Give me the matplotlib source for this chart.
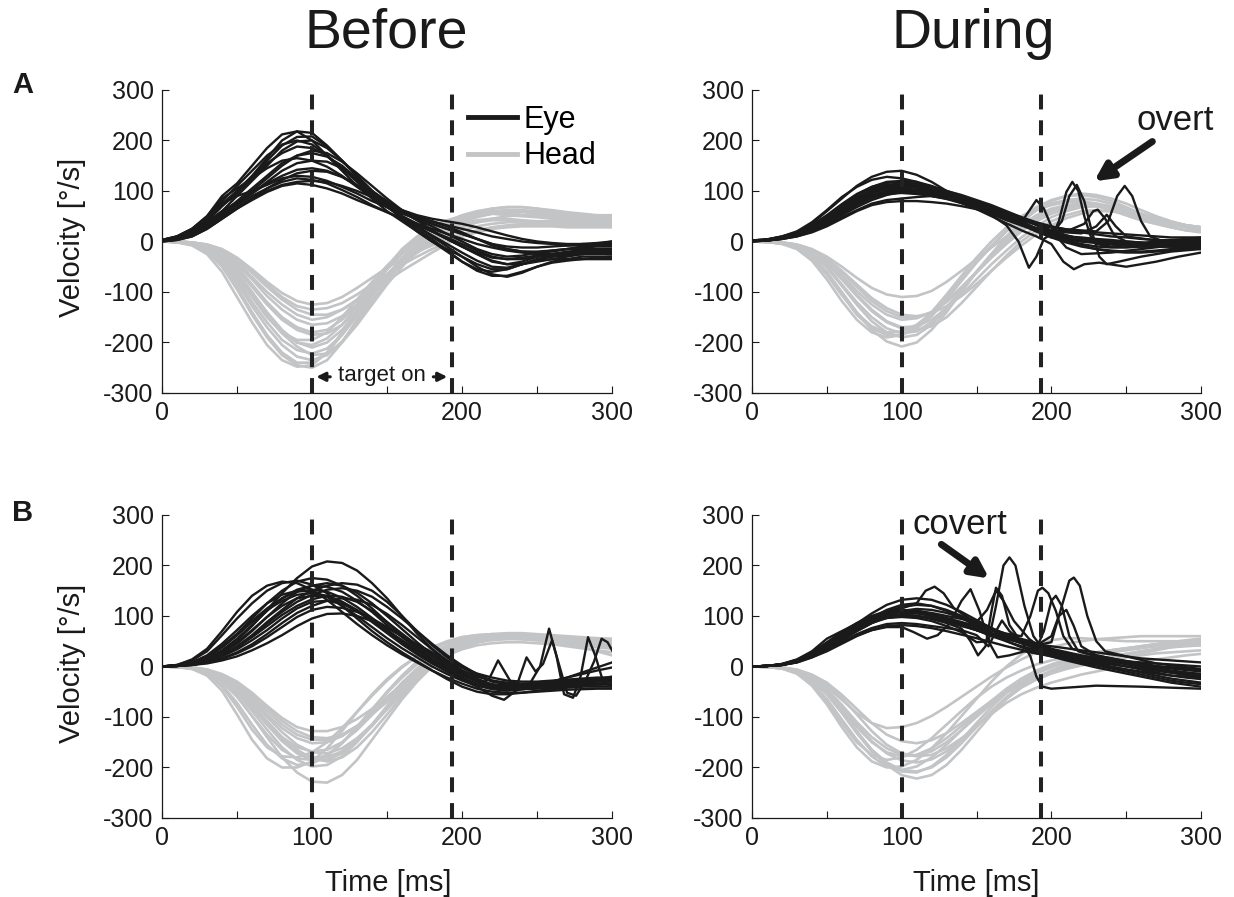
import matplotlib
matplotlib.use("Agg")
import matplotlib.pyplot as plt
from matplotlib.lines import Line2D

plt.rcParams['font.family'] = ['Liberation Sans', 'DejaVu Sans']
plt.rcParams['axes.unicode_minus'] = False

EYE_C = '#1a1a1a'
HEAD_C = '#c3c4c6'

time_ms = [0, 10, 20, 30, 40, 50, 60, 70, 80, 90, 100, 110, 120, 130, 140, 150,
           160, 170, 180, 190, 200, 210, 220, 230, 240, 250, 260, 270, 280, 290, 300]

# ---------------- A / Before ----------------
a_before_eye = [
    [2, 8, 20, 40, 70, 100, 130, 165, 200, 218, 215, 190, 160, 130, 100, 70, 45, 20, 0, -20, -40, -55, -60, -55, -45, -35, -30, -28, -25, -25, -25],
    [3, 10, 25, 50, 90, 115, 150, 185, 212, 218, 200, 170, 140, 110, 85, 60, 40, 20, 0, -15, -30, -45, -55, -55, -45, -35, -30, -25, -25, -22, -20],
    [1, 5, 15, 35, 60, 90, 120, 150, 180, 198, 200, 185, 160, 130, 100, 75, 50, 30, 10, -10, -30, -50, -65, -70, -62, -50, -40, -35, -30, -30, -30],
    [2, 6, 18, 40, 70, 95, 125, 155, 175, 188, 185, 170, 145, 120, 95, 70, 50, 35, 20, 5, -10, -25, -40, -45, -40, -30, -25, -20, -18, -15, -15],
    [0, 4, 12, 30, 55, 80, 105, 130, 155, 170, 175, 168, 150, 125, 100, 80, 60, 45, 35, 25, 15, 5, -5, -10, -12, -12, -10, -8, -5, -3, 0],
    [1, 5, 15, 32, 55, 75, 95, 118, 140, 155, 160, 158, 145, 125, 100, 78, 58, 42, 30, 15, 0, -15, -25, -30, -28, -22, -18, -15, -15, -15, -15],
    [2, 7, 20, 38, 60, 78, 95, 115, 130, 142, 145, 140, 128, 110, 90, 72, 58, 48, 40, 30, 18, 5, -8, -15, -20, -20, -18, -15, -12, -10, -10],
    [3, 10, 25, 45, 75, 90, 100, 112, 125, 130, 128, 120, 108, 95, 80, 68, 55, 45, 35, 25, 15, 5, -5, -15, -20, -22, -20, -15, -10, -5, 0],
    [1, 6, 18, 35, 55, 72, 90, 105, 118, 125, 122, 115, 102, 88, 72, 58, 45, 32, 20, 8, -5, -18, -30, -35, -35, -30, -28, -25, -22, -20, -20],
    [0, 3, 10, 25, 45, 65, 82, 98, 110, 115, 112, 105, 95, 82, 70, 58, 45, 35, 25, 15, 5, -5, -12, -18, -22, -25, -25, -22, -20, -18, -15],
    [2, 8, 22, 45, 80, 110, 140, 170, 192, 200, 192, 170, 145, 118, 92, 68, 48, 30, 12, -5, -22, -38, -50, -52, -45, -38, -35, -35, -35, -35, -35],
    [1, 4, 12, 28, 50, 75, 100, 125, 150, 170, 180, 175, 158, 135, 110, 85, 62, 42, 22, 5, -10, -25, -38, -45, -45, -40, -35, -30, -25, -22, -20],
    [0, 3, 10, 25, 45, 65, 85, 105, 122, 135, 140, 138, 128, 112, 95, 78, 62, 50, 40, 32, 25, 18, 10, 5, 0, -3, -5, -8, -8, -8, -8],
    [2, 8, 20, 42, 75, 100, 128, 160, 190, 207, 208, 188, 160, 130, 100, 72, 48, 25, 5, -18, -40, -58, -68, -68, -60, -50, -42, -38, -35, -32, -30],
    [3, 10, 25, 50, 85, 105, 125, 145, 160, 165, 160, 148, 130, 108, 88, 68, 50, 35, 20, 5, -10, -22, -32, -35, -32, -28, -25, -22, -20, -18, -18],
    [1, 4, 14, 30, 50, 68, 85, 100, 112, 118, 120, 118, 110, 100, 88, 75, 62, 52, 45, 40, 35, 28, 20, 12, 5, 0, -3, -5, -5, -5, -5],
]
a_before_head = [
    [0, -2, -8, -25, -60, -110, -160, -205, -235, -248, -245, -220, -180, -135, -90, -50, -15, 10, 30, 42, 50, 55, 55, 52, 50, 48, 45, 45, 45, 45, 45],
    [0, -1, -5, -18, -45, -90, -140, -185, -220, -240, -240, -220, -185, -140, -95, -55, -20, 5, 25, 40, 50, 55, 58, 55, 52, 50, 48, 45, 45, 45, 45],
    [0, -1, -4, -12, -30, -60, -100, -140, -175, -200, -210, -200, -175, -140, -100, -65, -35, -10, 10, 25, 35, 42, 45, 45, 42, 40, 40, 40, 40, 40, 40],
    [0, -1, -3, -10, -25, -50, -85, -120, -150, -170, -180, -175, -155, -125, -95, -65, -40, -18, 2, 18, 30, 38, 42, 42, 40, 38, 38, 38, 38, 38, 38],
    [0, 0, -2, -8, -20, -42, -70, -100, -125, -145, -155, -150, -135, -115, -90, -65, -42, -22, -5, 10, 22, 30, 35, 38, 40, 40, 40, 40, 38, 38, 38],
    [0, 0, -2, -6, -15, -32, -55, -80, -102, -118, -125, -122, -110, -92, -72, -52, -35, -20, -8, 5, 15, 22, 28, 30, 32, 32, 32, 32, 30, 30, 30],
    [0, -1, -6, -20, -50, -95, -145, -190, -225, -245, -250, -235, -200, -155, -110, -68, -32, -5, 18, 35, 48, 58, 65, 68, 68, 65, 60, 55, 52, 50, 50],
    [0, -1, -4, -14, -35, -70, -110, -150, -180, -195, -195, -180, -150, -115, -80, -48, -20, 5, 25, 40, 52, 60, 65, 68, 68, 65, 62, 58, 55, 52, 52],
    [0, 0, -3, -10, -28, -55, -90, -125, -155, -175, -185, -182, -165, -138, -105, -72, -42, -15, 8, 25, 38, 48, 55, 58, 58, 55, 52, 50, 48, 48, 48],
    [0, -1, -5, -15, -38, -75, -120, -160, -195, -215, -222, -212, -185, -148, -108, -70, -38, -10, 12, 30, 42, 50, 55, 55, 52, 50, 48, 48, 48, 48, 48],
    [0, 0, -2, -7, -18, -38, -62, -90, -115, -135, -145, -145, -135, -118, -98, -78, -58, -40, -22, -5, 10, 20, 28, 32, 35, 35, 35, 35, 35, 35, 35],
    [0, -1, -4, -12, -32, -65, -105, -145, -178, -200, -205, -192, -165, -128, -90, -55, -25, 0, 20, 35, 45, 52, 55, 55, 52, 50, 48, 46, 45, 45, 45],
    [0, 0, -3, -9, -22, -45, -75, -108, -135, -155, -165, -162, -148, -125, -98, -70, -45, -22, -2, 15, 28, 38, 45, 50, 52, 52, 50, 48, 46, 45, 45],
    [0, -1, -4, -14, -35, -68, -108, -148, -182, -208, -225, -222, -200, -165, -125, -85, -50, -20, 5, 25, 40, 50, 58, 62, 62, 60, 58, 55, 52, 50, 50],
    [0, 0, -2, -6, -16, -34, -58, -85, -110, -128, -135, -132, -122, -105, -85, -65, -46, -30, -15, -2, 10, 18, 25, 28, 30, 30, 30, 28, 28, 28, 28],
    [0, -1, -5, -17, -42, -82, -128, -170, -205, -228, -235, -225, -198, -160, -118, -78, -42, -12, 12, 30, 44, 54, 60, 62, 60, 58, 55, 52, 50, 48, 48],
]

# ---------------- A / During ----------------
a_during_eye = [
    [2, 3, 8, 18, 35, 60, 85, 110, 128, 138, 140, 132, 118, 100, 88, 78, 68, 55, 40, 25, 15, 10, 8, 5, 3, 0, -2, -5, -8, -10, -12],
    [2, 4, 10, 20, 38, 62, 88, 108, 122, 128, 125, 118, 105, 95, 88, 80, 70, 58, 45, 32, 20, 12, 5, 0, -5, -8, -10, -10, -10, -10, -10],
    [1, 3, 8, 16, 30, 50, 72, 92, 108, 118, 120, 118, 110, 100, 92, 82, 72, 60, 48, 35, 22, 12, 5, 2, 0, -2, -3, -5, -5, -5, -5],
    [1, 2, 6, 14, 26, 42, 62, 82, 98, 108, 112, 112, 108, 100, 90, 78, 65, 50, 35, 20, 8, -2, -10, -15, -18, -20, -20, -18, -15, -12, -10],
    [2, 4, 10, 18, 32, 50, 70, 88, 100, 105, 105, 102, 98, 92, 85, 75, 62, 48, 35, 22, 12, 5, 0, -3, -5, -5, -3, 0, 2, 5, 8],
    [1, 2, 5, 12, 22, 36, 52, 68, 82, 92, 98, 100, 98, 92, 82, 70, 58, 45, 32, 20, 10, 2, -5, -10, -12, -12, -10, -8, -5, -3, 0],
    [0, 2, 5, 10, 20, 32, 48, 62, 75, 82, 85, 88, 90, 88, 84, 76, 66, 52, 38, 24, 12, 5, 0, -2, -5, -5, -5, -3, -2, 0, 0],
    [1, 3, 8, 15, 28, 45, 65, 85, 100, 108, 110, 108, 100, 90, 80, 70, 60, 50, 42, 35, 28, 22, 18, 14, 10, 8, 5, 3, 2, 0, 0],
    [2, 3, 7, 14, 25, 40, 58, 76, 90, 98, 100, 96, 90, 85, 80, 72, 62, 50, 36, 22, 10, 2, -8, -15, -20, -22, -22, -20, -18, -15, -12],
    [0, 2, 5, 10, 18, 30, 45, 60, 72, 78, 80, 80, 78, 75, 70, 64, 56, 46, 35, 25, 16, 10, 5, 2, 0, -2, -5, -8, -10, -12, -15],
    [1, 3, 8, 16, 28, 45, 65, 85, 102, 112, 115, 112, 105, 95, 85, 74, 62, 50, 38, 26, 16, 8, 2, -2, -5, -8, -10, -10, -10, -10, -10],
    [1, 3, 7, 14, 26, 42, 60, 78, 92, 100, 102, 100, 95, 88, 82, 75, 67, 58, 48, 38, 30, 24, 20, 18, 16, 14, 12, 10, 8, 8, 8],
]
# traces with corrective saccades: (times, values)
a_during_sacc = [
    ([0, 10, 20, 30, 40, 50, 60, 70, 80, 90, 100, 110, 120, 130, 140, 150, 160, 170, 180, 185, 190, 195, 200, 205, 210, 220, 240, 260, 280, 300],
     [1, 3, 8, 16, 30, 50, 72, 92, 105, 112, 112, 108, 100, 92, 84, 74, 62, 48, 38, 60, 82, 65, 30, 5, -12, -25, -22, -15, -8, -5]),
    ([0, 10, 20, 30, 40, 50, 60, 70, 80, 90, 100, 110, 120, 130, 140, 150, 160, 170, 180, 190, 200, 205, 210, 214, 218, 222, 226, 230, 240, 260, 280, 300],
     [2, 4, 9, 18, 32, 52, 74, 94, 108, 116, 118, 114, 106, 96, 86, 76, 64, 50, 36, 22, 8, 40, 98, 118, 100, 50, 12, -5, -10, -5, 0, 2]),
    ([0, 10, 20, 30, 40, 50, 60, 70, 80, 90, 100, 110, 120, 130, 140, 150, 160, 170, 180, 190, 200, 207, 212, 217, 222, 227, 232, 237, 245, 260, 280, 300],
     [1, 2, 6, 13, 24, 40, 60, 80, 96, 106, 110, 108, 102, 94, 85, 75, 63, 50, 38, 25, 14, 40, 90, 112, 80, 20, -30, -45, -40, -30, -20, -15]),
    ([0, 10, 20, 30, 40, 50, 60, 70, 80, 90, 100, 110, 120, 130, 140, 150, 160, 170, 180, 190, 200, 210, 222, 228, 231, 236, 242, 250, 270, 300],
     [1, 3, 7, 15, 28, 46, 66, 86, 100, 108, 110, 106, 98, 88, 78, 68, 56, 44, 34, 26, 22, 20, 35, 60, 63, 45, 12, 0, -5, -10]),
    ([0, 10, 20, 30, 40, 50, 60, 70, 80, 90, 100, 110, 120, 130, 140, 150, 160, 170, 180, 190, 200, 210, 220, 230, 238, 244, 249, 254, 260, 266, 275, 290, 300],
     [1, 2, 6, 12, 24, 38, 56, 74, 88, 96, 98, 96, 92, 86, 80, 72, 62, 52, 42, 34, 28, 24, 22, 20, 40, 90, 110, 90, 40, 10, 0, 2, 5]),
    ([0, 10, 20, 30, 40, 50, 60, 70, 80, 90, 100, 110, 120, 130, 140, 150, 160, 170, 178, 185, 190, 195, 200, 210, 220, 240, 270, 300],
     [2, 3, 7, 14, 26, 42, 62, 82, 96, 104, 106, 102, 96, 88, 78, 66, 52, 32, 0, -52, -30, 5, 15, 10, 5, 0, -5, -8]),
    ([0, 10, 20, 30, 40, 50, 60, 70, 80, 90, 100, 110, 120, 130, 140, 150, 160, 170, 180, 190, 200, 208, 215, 222, 232, 250, 270, 285, 300],
     [1, 3, 8, 15, 28, 44, 64, 84, 98, 104, 104, 100, 94, 86, 76, 64, 50, 36, 22, 10, -5, -40, -55, -45, -42, -50, -40, -30, -22]),
    ([0, 10, 20, 30, 40, 50, 60, 70, 80, 90, 100, 110, 120, 130, 140, 150, 160, 170, 180, 190, 200, 210, 220, 230, 237, 243, 250, 270, 300],
     [0, 2, 6, 12, 22, 36, 54, 72, 86, 94, 96, 94, 90, 84, 76, 66, 54, 42, 32, 26, 22, 18, 16, 30, 53, 30, 10, 2, 5]),
]
a_during_head = [
    [0, -1, -4, -12, -30, -60, -100, -140, -175, -198, -208, -200, -175, -140, -100, -60, -25, 10, 40, 62, 75, 82, 85, 82, 75, 65, 55, 45, 38, 32, 28],
    [0, -1, -3, -10, -25, -50, -85, -120, -150, -172, -182, -178, -160, -130, -95, -60, -25, 8, 38, 62, 80, 90, 95, 92, 85, 75, 62, 50, 40, 32, 28],
    [0, -1, -3, -8, -20, -40, -68, -98, -125, -145, -155, -152, -140, -118, -90, -60, -30, 0, 25, 45, 60, 70, 75, 75, 70, 62, 52, 42, 35, 30, 25],
    [0, 0, -2, -6, -15, -30, -50, -72, -92, -105, -110, -108, -98, -80, -58, -35, -12, 10, 30, 48, 62, 70, 72, 70, 62, 52, 42, 35, 28, 22, 20],
    [0, -1, -4, -12, -32, -65, -105, -145, -172, -185, -185, -172, -148, -115, -78, -42, -10, 20, 45, 62, 72, 78, 78, 72, 62, 52, 42, 35, 28, 22, 18],
    [0, 0, -2, -8, -20, -42, -72, -105, -135, -158, -170, -168, -155, -132, -105, -75, -45, -18, 8, 30, 48, 60, 68, 70, 68, 62, 55, 46, 38, 32, 28],
    [0, 0, -2, -6, -16, -34, -58, -85, -112, -132, -145, -148, -142, -128, -108, -84, -58, -32, -8, 14, 32, 46, 55, 60, 60, 56, 50, 42, 35, 28, 22],
    [0, -1, -5, -15, -38, -75, -118, -155, -180, -190, -185, -168, -140, -105, -68, -32, 0, 28, 50, 66, 75, 80, 80, 75, 65, 55, 45, 38, 32, 28, 25],
    [0, 0, -2, -8, -22, -45, -75, -108, -138, -160, -172, -175, -168, -150, -122, -90, -58, -28, 0, 22, 40, 52, 60, 62, 60, 55, 48, 40, 34, 30, 26],
    [0, -1, -3, -10, -26, -52, -88, -125, -158, -180, -190, -185, -165, -135, -98, -60, -25, 5, 32, 52, 65, 72, 75, 72, 66, 58, 48, 40, 34, 30, 28],
    [0, 0, -2, -7, -18, -36, -62, -90, -118, -138, -150, -150, -140, -120, -92, -62, -32, -5, 20, 40, 55, 65, 70, 70, 66, 60, 52, 45, 38, 32, 28],
    [0, -1, -4, -13, -33, -66, -106, -142, -168, -180, -178, -165, -142, -110, -75, -40, -8, 22, 48, 68, 82, 90, 92, 88, 80, 68, 55, 45, 38, 32, 28],
]

# ---------------- B / Before ----------------
b_before_eye = [
    [0, 2, 6, 15, 30, 52, 80, 112, 145, 175, 198, 208, 205, 190, 165, 135, 100, 65, 35, 10, -12, -28, -38, -42, -42, -40, -38, -35, -32, -30, -30],
    [0, 3, 12, 30, 62, 95, 125, 150, 165, 170, 162, 145, 120, 95, 70, 48, 28, 10, -8, -25, -40, -50, -55, -55, -52, -48, -45, -42, -40, -40, -40],
    [0, 2, 8, 20, 40, 65, 95, 125, 150, 168, 175, 172, 160, 140, 115, 88, 62, 38, 15, -5, -22, -35, -42, -45, -45, -42, -40, -38, -35, -35, -35],
    [0, 2, 6, 15, 32, 55, 82, 110, 135, 152, 160, 158, 148, 130, 108, 82, 58, 35, 12, -8, -25, -38, -45, -48, -45, -42, -40, -38, -36, -35, -35],
    [0, 1, 4, 10, 22, 40, 62, 88, 112, 135, 150, 160, 165, 162, 150, 128, 100, 70, 42, 18, -2, -18, -30, -35, -35, -32, -30, -28, -26, -25, -25],
    [0, 2, 8, 22, 45, 72, 100, 125, 142, 150, 148, 138, 120, 100, 78, 56, 36, 18, 0, -15, -28, -38, -42, -42, -40, -38, -36, -35, -35, -35, -35],
    [0, 1, 4, 10, 22, 38, 58, 80, 102, 120, 133, 140, 138, 128, 110, 88, 65, 42, 20, 0, -18, -30, -38, -40, -40, -38, -35, -32, -30, -28, -28],
    [0, 1, 4, 10, 20, 34, 52, 72, 95, 115, 128, 130, 124, 110, 92, 72, 52, 32, 14, -2, -16, -28, -35, -38, -38, -36, -34, -32, -30, -30, -30],
    [0, 1, 3, 8, 15, 26, 40, 58, 78, 98, 112, 118, 116, 108, 95, 78, 60, 42, 25, 8, -8, -20, -28, -32, -34, -34, -32, -30, -28, -26, -25],
    [0, 1, 3, 6, 12, 20, 32, 46, 62, 80, 95, 104, 105, 100, 90, 76, 60, 44, 28, 12, -2, -14, -22, -28, -30, -30, -28, -26, -24, -22, -22],
    [0, 1, 5, 12, 26, 45, 70, 98, 125, 148, 160, 165, 160, 146, 125, 100, 74, 48, 24, 4, -14, -28, -38, -42, -42, -40, -38, -35, -30, -25, -20],
    [0, 2, 7, 18, 38, 62, 88, 112, 130, 142, 145, 140, 128, 110, 88, 66, 44, 24, 6, -10, -24, -34, -40, -42, -40, -36, -30, -22, -15, -8, -2],
    [0, 1, 4, 10, 22, 38, 60, 85, 108, 128, 142, 152, 155, 150, 138, 118, 95, 70, 45, 22, 2, -15, -28, -35, -38, -36, -30, -22, -12, -2, 8],
    [0, 3, 14, 35, 70, 108, 140, 160, 168, 165, 152, 132, 108, 84, 62, 42, 24, 8, -8, -22, -34, -44, -50, -52, -52, -50, -48, -46, -45, -44, -44],
    [0, 1, 3, 8, 16, 28, 44, 64, 86, 106, 120, 130, 135, 132, 122, 104, 82, 58, 34, 12, -8, -24, -36, -42, -45, -44, -42, -40, -38, -36, -35],
]
b_before_sacc = [
    ([0, 10, 20, 30, 40, 50, 60, 70, 80, 90, 100, 110, 120, 130, 140, 150, 160, 170, 180, 190, 200, 210, 218, 224, 230, 236, 244, 252, 258, 263, 268, 274, 279, 284, 289, 294, 300],
     [0, 2, 7, 18, 38, 62, 90, 115, 135, 148, 152, 148, 136, 118, 96, 72, 50, 30, 10, -8, -24, -38, -25, 12, -18, -48, -40, 0, 75, 20, -55, -62, -20, 58, 20, -30, -40]),
    ([0, 10, 20, 30, 40, 50, 60, 70, 80, 90, 100, 110, 120, 130, 140, 150, 160, 170, 180, 190, 200, 210, 220, 228, 235, 243, 249, 254, 260, 265, 270, 276, 282, 288, 293, 297, 300],
     [0, 1, 5, 13, 28, 48, 72, 98, 120, 135, 140, 138, 128, 112, 92, 70, 48, 28, 8, -10, -26, -40, -58, -66, -50, 18, -10, 5, 52, 0, -52, -58, -30, 10, 55, 48, 32]),
]
b_before_head = [
    [0, -1, -5, -18, -48, -95, -145, -182, -200, -200, -188, -162, -128, -90, -55, -25, 0, 20, 38, 50, 58, 62, 64, 64, 62, 60, 58, 55, 52, 50, 50],
    [0, -1, -3, -10, -28, -58, -98, -140, -180, -210, -228, -230, -215, -185, -145, -105, -65, -30, 0, 25, 42, 52, 58, 60, 60, 58, 55, 52, 50, 48, 48],
    [0, -1, -3, -10, -25, -50, -82, -115, -145, -168, -180, -180, -168, -145, -115, -82, -50, -20, 5, 25, 40, 50, 55, 58, 58, 56, 54, 52, 50, 48, 46],
    [0, 0, -2, -7, -18, -38, -65, -95, -122, -142, -152, -150, -138, -118, -92, -64, -36, -10, 12, 30, 44, 52, 56, 58, 56, 54, 50, 46, 42, 40, 38],
    [0, -1, -4, -14, -36, -72, -115, -155, -182, -195, -192, -178, -152, -120, -85, -52, -22, 4, 26, 42, 54, 60, 62, 62, 60, 58, 55, 52, 48, 45, 42],
    [0, 0, -2, -6, -16, -32, -55, -82, -108, -128, -140, -142, -135, -118, -95, -70, -44, -18, 5, 24, 38, 48, 54, 56, 56, 54, 52, 50, 48, 45, 42],
    [0, -1, -3, -9, -22, -44, -74, -108, -140, -165, -182, -188, -180, -160, -130, -95, -60, -28, 0, 22, 38, 48, 54, 56, 56, 54, 50, 46, 42, 38, 35],
    [0, -1, -4, -12, -30, -60, -98, -135, -165, -182, -185, -175, -152, -120, -85, -50, -18, 10, 32, 48, 58, 62, 64, 62, 60, 56, 52, 48, 44, 40, 38],
    [0, 0, -2, -8, -20, -40, -68, -100, -130, -155, -170, -172, -162, -142, -115, -85, -55, -26, 0, 22, 38, 48, 54, 58, 58, 58, 56, 54, 52, 50, 48],
    [0, -1, -4, -15, -40, -80, -125, -160, -178, -180, -170, -150, -122, -90, -58, -28, -2, 20, 36, 48, 55, 58, 58, 56, 54, 52, 50, 48, 46, 44, 42],
    [0, 0, -2, -6, -15, -30, -52, -78, -102, -120, -128, -128, -120, -104, -84, -60, -36, -14, 6, 22, 34, 42, 46, 48, 48, 46, 44, 40, 36, 32, 28],
    [0, -1, -3, -10, -26, -52, -88, -125, -160, -185, -198, -195, -178, -150, -115, -78, -42, -10, 16, 36, 50, 58, 62, 64, 64, 62, 60, 58, 56, 54, 52],
    [0, 0, -2, -8, -22, -46, -78, -112, -140, -160, -168, -165, -150, -126, -96, -64, -32, -4, 20, 38, 50, 56, 60, 60, 58, 56, 52, 48, 44, 40, 36],
    [0, -1, -3, -9, -24, -48, -80, -115, -148, -172, -185, -185, -172, -148, -118, -84, -50, -18, 10, 32, 48, 58, 64, 66, 66, 64, 62, 60, 58, 56, 55],
    [0, 0, -2, -7, -18, -36, -60, -88, -115, -135, -145, -145, -136, -118, -94, -68, -40, -14, 8, 26, 40, 48, 52, 54, 54, 52, 48, 44, 38, 30, 22],
]

# ---------------- B / During ----------------
b_during_eye = [
    [0, 1, 4, 12, 25, 45, 65, 85, 105, 122, 132, 135, 132, 122, 108, 92, 76, 62, 50, 40, 32, 25, 18, 12, 6, 0, -6, -12, -18, -22, -25],
    [0, 1, 4, 10, 22, 38, 56, 75, 92, 108, 118, 122, 120, 112, 100, 86, 72, 58, 46, 35, 25, 15, 8, 2, -4, -10, -16, -22, -28, -32, -35],
    [0, 1, 5, 14, 30, 55, 70, 85, 98, 108, 112, 110, 104, 95, 84, 72, 60, 50, 40, 32, 24, 18, 12, 8, 4, 0, -4, -8, -12, -14, -15],
    [0, 1, 3, 9, 20, 35, 52, 70, 86, 98, 104, 105, 102, 95, 86, 76, 66, 56, 46, 38, 30, 24, 20, 16, 12, 10, 8, 6, 4, 2, 0],
    [0, 1, 4, 11, 24, 40, 58, 78, 96, 112, 122, 125, 120, 110, 96, 80, 64, 50, 38, 28, 20, 12, 5, -2, -8, -14, -20, -26, -32, -36, -40],
    [0, 1, 3, 8, 18, 30, 45, 60, 72, 80, 82, 80, 76, 70, 63, 56, 48, 40, 33, 26, 20, 14, 8, 3, -2, -6, -10, -14, -18, -20, -22],
    [0, 1, 4, 12, 26, 44, 62, 80, 94, 104, 108, 106, 100, 92, 82, 72, 62, 54, 48, 44, 40, 36, 32, 28, 24, 20, 16, 14, 12, 10, 8],
    [0, 1, 4, 10, 22, 36, 52, 70, 86, 100, 110, 114, 112, 106, 96, 84, 72, 60, 48, 38, 28, 20, 12, 6, 0, -6, -12, -18, -24, -28, -32],
]
b_during_sacc = [
    ([0, 10, 20, 30, 40, 50, 60, 70, 80, 90, 100, 110, 116, 122, 128, 135, 145, 155, 165, 180, 200, 220, 240, 260, 280, 300],
     [0, 1, 5, 13, 28, 48, 68, 86, 100, 110, 115, 125, 150, 158, 145, 115, 95, 82, 70, 52, 35, 22, 12, 2, -8, -15]),
    ([0, 10, 20, 30, 40, 50, 60, 70, 80, 90, 100, 108, 117, 124, 132, 140, 146, 152, 158, 164, 172, 182, 192, 205, 225, 245, 265, 285, 300],
     [0, 1, 3, 9, 20, 34, 48, 62, 72, 78, 78, 68, 55, 62, 85, 130, 153, 110, 50, 18, 22, 30, 25, 20, 14, 8, -2, -12, -18]),
    ([0, 10, 20, 30, 40, 50, 60, 70, 80, 90, 100, 110, 120, 130, 140, 146, 151, 156, 160, 163, 167, 172, 178, 186, 196, 210, 230, 250, 270, 300],
     [0, 1, 4, 11, 24, 42, 60, 78, 92, 100, 102, 100, 94, 86, 75, 50, 22, 40, 110, 156, 140, 82, 56, 50, 40, 22, 12, 6, 0, -6]),
    ([0, 10, 20, 30, 40, 50, 60, 70, 80, 90, 100, 110, 120, 130, 140, 150, 157, 163, 168, 175, 185, 195, 210, 230, 250, 270, 300],
     [0, 1, 4, 12, 26, 44, 64, 82, 96, 106, 110, 110, 106, 100, 94, 88, 112, 150, 130, 90, 55, 32, 22, 15, 5, -8, -20]),
    ([0, 10, 20, 30, 40, 50, 60, 70, 80, 90, 100, 110, 120, 130, 140, 150, 158, 163, 168, 172, 176, 182, 188, 195, 205, 220, 240, 260, 280, 300],
     [0, 1, 3, 10, 22, 38, 56, 74, 88, 96, 98, 96, 90, 80, 68, 48, 50, 120, 200, 216, 200, 120, 60, 32, 26, 20, 10, 0, -12, -22]),
    ([0, 10, 20, 30, 40, 50, 60, 70, 80, 90, 100, 110, 120, 130, 140, 150, 160, 170, 180, 186, 191, 194, 198, 203, 208, 214, 225, 240, 260, 280, 300],
     [0, 1, 4, 12, 26, 44, 64, 84, 98, 108, 112, 110, 104, 96, 88, 80, 72, 65, 60, 100, 150, 156, 145, 110, 60, 35, 25, 16, 6, -4, -10]),
    ([0, 10, 20, 30, 40, 50, 60, 70, 80, 90, 100, 110, 120, 130, 140, 150, 160, 170, 180, 186, 190, 194, 200, 230, 260, 300],
     [0, 1, 3, 9, 20, 36, 54, 72, 86, 96, 100, 100, 96, 90, 82, 74, 66, 58, 50, 20, -20, -40, -44, -38, -40, -44]),
    ([0, 10, 20, 30, 40, 50, 60, 70, 80, 90, 100, 110, 120, 130, 140, 150, 160, 170, 180, 190, 195, 200, 203, 207, 212, 218, 230, 250, 270, 300],
     [0, 1, 4, 11, 24, 42, 62, 80, 94, 104, 108, 106, 100, 92, 82, 72, 62, 54, 48, 36, 70, 130, 140, 120, 60, 30, 20, 10, 0, -6]),
    ([0, 10, 20, 30, 40, 50, 60, 70, 80, 90, 100, 110, 120, 130, 140, 150, 160, 170, 180, 190, 200, 207, 212, 215, 219, 224, 230, 236, 250, 270, 300],
     [0, 1, 3, 10, 22, 38, 56, 74, 88, 98, 102, 100, 96, 88, 80, 72, 64, 56, 48, 42, 48, 120, 170, 176, 160, 100, 50, 30, 20, 6, -5]),
    ([0, 10, 20, 30, 40, 50, 60, 70, 80, 90, 100, 110, 120, 130, 140, 150, 158, 163, 167, 172, 180, 190, 200, 205, 210, 215, 220, 230, 250, 270, 300],
     [0, 1, 3, 8, 18, 32, 48, 64, 76, 84, 86, 84, 80, 76, 72, 62, 40, 70, 91, 70, 50, 42, 60, 100, 112, 80, 40, 22, 10, 0, -8]),
]
b_during_head = [
    [0, -1, -3, -10, -26, -52, -88, -128, -165, -192, -208, -210, -198, -175, -145, -112, -80, -52, -30, -12, 2, 12, 20, 26, 32, 36, 40, 44, 48, 50, 52],
    [0, -1, -4, -14, -36, -70, -112, -150, -175, -185, -180, -165, -142, -115, -88, -62, -40, -22, -8, 4, 12, 18, 24, 28, 32, 36, 40, 44, 46, 48, 50],
    [0, 0, -2, -8, -20, -40, -66, -92, -112, -122, -120, -112, -98, -80, -60, -40, -20, -2, 14, 28, 38, 45, 50, 54, 56, 58, 60, 60, 60, 60, 60],
    [0, -1, -3, -10, -26, -52, -85, -120, -150, -170, -178, -175, -162, -142, -118, -94, -72, -52, -36, -22, -10, 0, 8, 14, 20, 25, 30, 34, 38, 40, 42],
    [0, -1, -4, -12, -32, -64, -105, -145, -178, -198, -205, -198, -180, -155, -126, -96, -68, -44, -24, -8, 4, 14, 22, 28, 32, 36, 38, 40, 42, 42, 42],
    [0, 0, -2, -6, -16, -32, -56, -84, -112, -135, -148, -152, -146, -132, -112, -90, -68, -48, -32, -20, -10, -2, 4, 10, 14, 18, 22, 26, 28, 30, 32],
    [0, -1, -3, -10, -26, -54, -90, -130, -165, -190, -205, -208, -200, -180, -152, -120, -88, -60, -38, -22, -10, 0, 8, 15, 20, 25, 30, 35, 40, 44, 48],
    [0, -1, -3, -9, -24, -48, -80, -115, -148, -172, -186, -190, -184, -168, -145, -118, -90, -64, -42, -26, -14, -5, 2, 8, 14, 20, 26, 32, 38, 42, 45],
    [0, -1, -4, -14, -38, -75, -120, -160, -188, -200, -198, -185, -162, -132, -98, -64, -30, 0, 24, 42, 52, 56, 56, 54, 52, 50, 50, 50, 50, 50, 50],
    [0, 0, -2, -7, -18, -36, -62, -95, -128, -155, -172, -178, -175, -162, -142, -118, -94, -72, -55, -42, -32, -24, -16, -10, -4, 2, 8, 14, 18, 22, 25],
    [0, -1, -3, -10, -27, -55, -92, -132, -168, -195, -215, -222, -215, -195, -165, -130, -95, -64, -40, -22, -8, 4, 14, 22, 28, 34, 40, 44, 48, 52, 55],
    [0, 0, -2, -8, -22, -45, -76, -110, -140, -162, -175, -176, -168, -150, -126, -100, -74, -50, -30, -14, -2, 8, 16, 22, 28, 32, 36, 40, 42, 44, 45],
]

target_on_ms = [100, 193]
x_ticks = [0, 100, 200, 300]
x_minor = [50, 150, 250]
y_ticks = [-300, -200, -100, 0, 100, 200, 300]

fig = plt.figure(figsize=(12.34, 8.97), dpi=100)
ax_al = fig.add_axes([0.1313, 0.5619, 0.3647, 0.3378])
ax_ar = fig.add_axes([0.6094, 0.5619, 0.3639, 0.3378])
ax_bl = fig.add_axes([0.1313, 0.0881, 0.3647, 0.3378])
ax_br = fig.add_axes([0.6094, 0.0881, 0.3639, 0.3378])


def draw_panel(ax, eye, head, sacc):
    for v in head:
        ax.plot(time_ms, v, color=HEAD_C, lw=1.9, zorder=2)
    for v in eye:
        ax.plot(time_ms, v, color=EYE_C, lw=1.7, zorder=3)
    for t, v in sacc:
        ax.plot(t, v, color=EYE_C, lw=1.7, zorder=3)
    for xm in target_on_ms:
        ax.plot([xm, xm], [-300, 292], color='#222222', lw=2.9,
                linestyle=(0, (3.7, 2.7)), zorder=4, clip_on=False)
    ax.set_xlim(0, 300)
    ax.set_ylim(-300, 300)
    ax.set_xticks(x_ticks)
    ax.set_xticks(x_minor, minor=True)
    ax.set_yticks(y_ticks)
    ax.tick_params(which='both', direction='in', length=5, width=0.8,
                   labelsize=18, pad=6, colors='#1a1a1a')
    for s in ['top', 'right']:
        ax.spines[s].set_visible(False)
    for s in ['left', 'bottom']:
        ax.spines[s].set_linewidth(0.9)
        ax.spines[s].set_color('#1a1a1a')


draw_panel(ax_al, a_before_eye, a_before_head, [])
draw_panel(ax_ar, a_during_eye, a_during_head, a_during_sacc)
draw_panel(ax_bl, b_before_eye, b_before_head, b_before_sacc)
draw_panel(ax_br, b_during_eye, b_during_head, b_during_sacc)

# legend
handles = [Line2D([0], [0], color=EYE_C, lw=3.5), Line2D([0], [0], color=HEAD_C, lw=3.5)]
ax_al.legend(handles, ['Eye', 'Head'], loc='upper left', bbox_to_anchor=(0.68, 0.95),
             frameon=False, fontsize=22, handlelength=1.6, handletextpad=0.2,
             labelspacing=0.2, borderaxespad=0.0, borderpad=0.0)

# target on annotation
ax_al.annotate('', xy=(101, -268), xytext=(114, -268),
               arrowprops=dict(arrowstyle='-|>', color='#1a1a1a', lw=2.2, mutation_scale=13))
ax_al.annotate('', xy=(192, -268), xytext=(179, -268),
               arrowprops=dict(arrowstyle='-|>', color='#1a1a1a', lw=2.2, mutation_scale=13))
ax_al.text(146.5, -266, 'target on', ha='center', va='center', fontsize=16, color='#1a1a1a')

# overt / covert
ax_ar.text(283, 240, 'overt', ha='center', va='center', fontsize=25, color='#1a1a1a')
ax_ar.annotate('', xy=(227, 116), xytext=(269, 201),
               arrowprops=dict(arrowstyle='-|>', color='#1a1a1a', lw=5, mutation_scale=26))
ax_br.text(139, 282, 'covert', ha='center', va='center', fontsize=25, color='#1a1a1a')
ax_br.annotate('', xy=(160, 171), xytext=(125, 245),
               arrowprops=dict(arrowstyle='-|>', color='#1a1a1a', lw=5, mutation_scale=26))

# titles & labels
fig.text(0.3128, 0.9465, 'Before', ha='center', va='baseline', fontsize=40, color='#1a1a1a')
fig.text(0.7885, 0.9465, 'During', ha='center', va='baseline', fontsize=40, color='#1a1a1a')
fig.text(0.01, 0.905, 'A', ha='left', va='center', fontsize=21, fontweight='bold', color='#1a1a1a')
fig.text(0.01, 0.428, 'B', ha='left', va='center', fontsize=21, fontweight='bold', color='#1a1a1a')
for yc in [0.735, 0.261]:
    fig.text(0.058, yc, 'Velocity [°/s]', rotation=90, ha='center', va='center',
             fontsize=21, color='#1a1a1a')
for xc in [0.3144, 0.7909]:
    fig.text(xc, 0.016, 'Time [ms]', ha='center', va='center', fontsize=21, color='#1a1a1a')

fig.savefig('out.png', dpi=100)
